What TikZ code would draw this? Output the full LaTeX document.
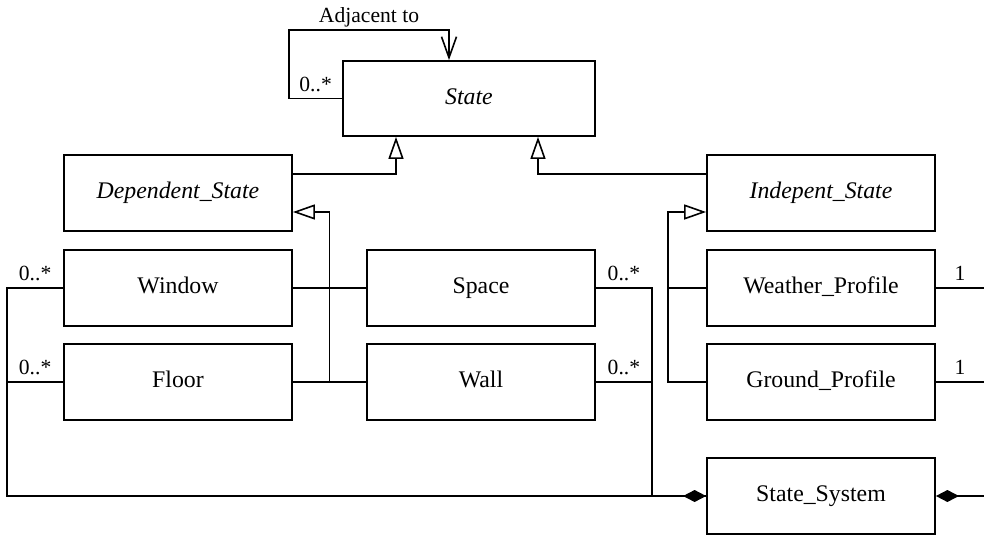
\documentclass[tikz,border=0pt]{standalone}
\usepackage{fontspec}
\setmainfont{Liberation Serif}
\usetikzlibrary{arrows.meta}
\usetikzlibrary{calc}

\tikzset{
    cls/.style={draw, line width=0.9pt, minimum width=114pt, minimum height=38pt,
        inner sep=0pt, text height=8.2pt, text depth=2.6pt,
        font=\fontsize{11.9}{14}\selectfont},
    lbl/.style={font=\fontsize{10.8}{13}\selectfont, text depth=0pt},
    gen/.style={-{Triangle[open,length=11pt,width=7.5pt]}},
    comp/.style={{Diamond[length=11.5pt,width=6pt]}-},
    assoc/.style={-{Straight Barb[length=10.5pt,width=7.5pt]}},
}

\begin{document}
\begin{tikzpicture}[x=0.5pt, y=-0.5pt, line width=0.8pt]
    \useasboundingbox (0,0) rectangle (984,536);

    \path (469,98.5) node [cls,minimum width=126pt,minimum height=37.5pt] (st) {\textit{State}};
    \draw [assoc] (st.west) -- ++(-26.5pt,0) node[midway,above,lbl] {0..*}
	|- ([xshift=-10pt,yshift=15pt]st.north) node[pos=0.75,above,lbl] {Adjacent to}
	-- ([xshift=-10pt]st.north);

    \path (178,193) node [cls] (ds) {\textit{Dependent\_State}};
    \path (821,193) node [cls] (is) {\textit{Indepent\_State}};
    \draw [gen] ([yshift=9.5pt]ds.east) -| ([xshift=-36.5pt]st.south);
    \draw [gen] ([yshift=9.5pt]is.west) -| ([xshift=34.5pt]st.south);

    \path (178,288) node [cls] (win) {Window};
    \path (178,382) node [cls] (flr) {Floor};
    \path (481,288) node [cls] (spc) {Space};
    \path (481,382) node [cls] (wal) {Wall};
    \draw (win) -- (spc);
    \draw (flr) -- (wal);
    \draw [gen] ($(flr.east)!0.5!(wal.west)$) |- ([yshift=-9.5pt]ds.east);

    \path (821,288) node [cls] (wp) {Weather\_Profile};
    \path (821,382) node [cls] (gp) {Ground\_Profile};
    \draw (wp.west) -- ([xshift=-19pt]wp.west);
    \draw [gen] (gp.west) -- ++(-19pt,0) |- ([yshift=-9.5pt]is.west);

    \path (821,496) node [cls] (sys) {State\_System};
    \draw [comp] (sys.west) -| ([xshift=-28pt]win.west)
	-- (win.west) node[midway,above,lbl] {0..*};
    \draw ([xshift=-28pt]flr.west) -- (flr.west) node[midway,above,lbl] {0..*};
    \draw (spc.east) -- ++(28pt,0) node[midway,above,lbl] {0..*} |- (sys.west);
    \draw (wal.east) -- ++(28pt,0) node[midway,above,lbl] {0..*};

    \coordinate (wpe) at (984,288);
    \coordinate (gpe) at (984,382);
    \coordinate (syse) at (984,496);
    \draw (wp.east) -- (wpe) node[midway,above,lbl] {1};
    \draw (gp.east) -- (gpe) node[midway,above,lbl] {1};
    \draw [comp] (sys.east) -- (syse);
\end{tikzpicture}
\end{document}
